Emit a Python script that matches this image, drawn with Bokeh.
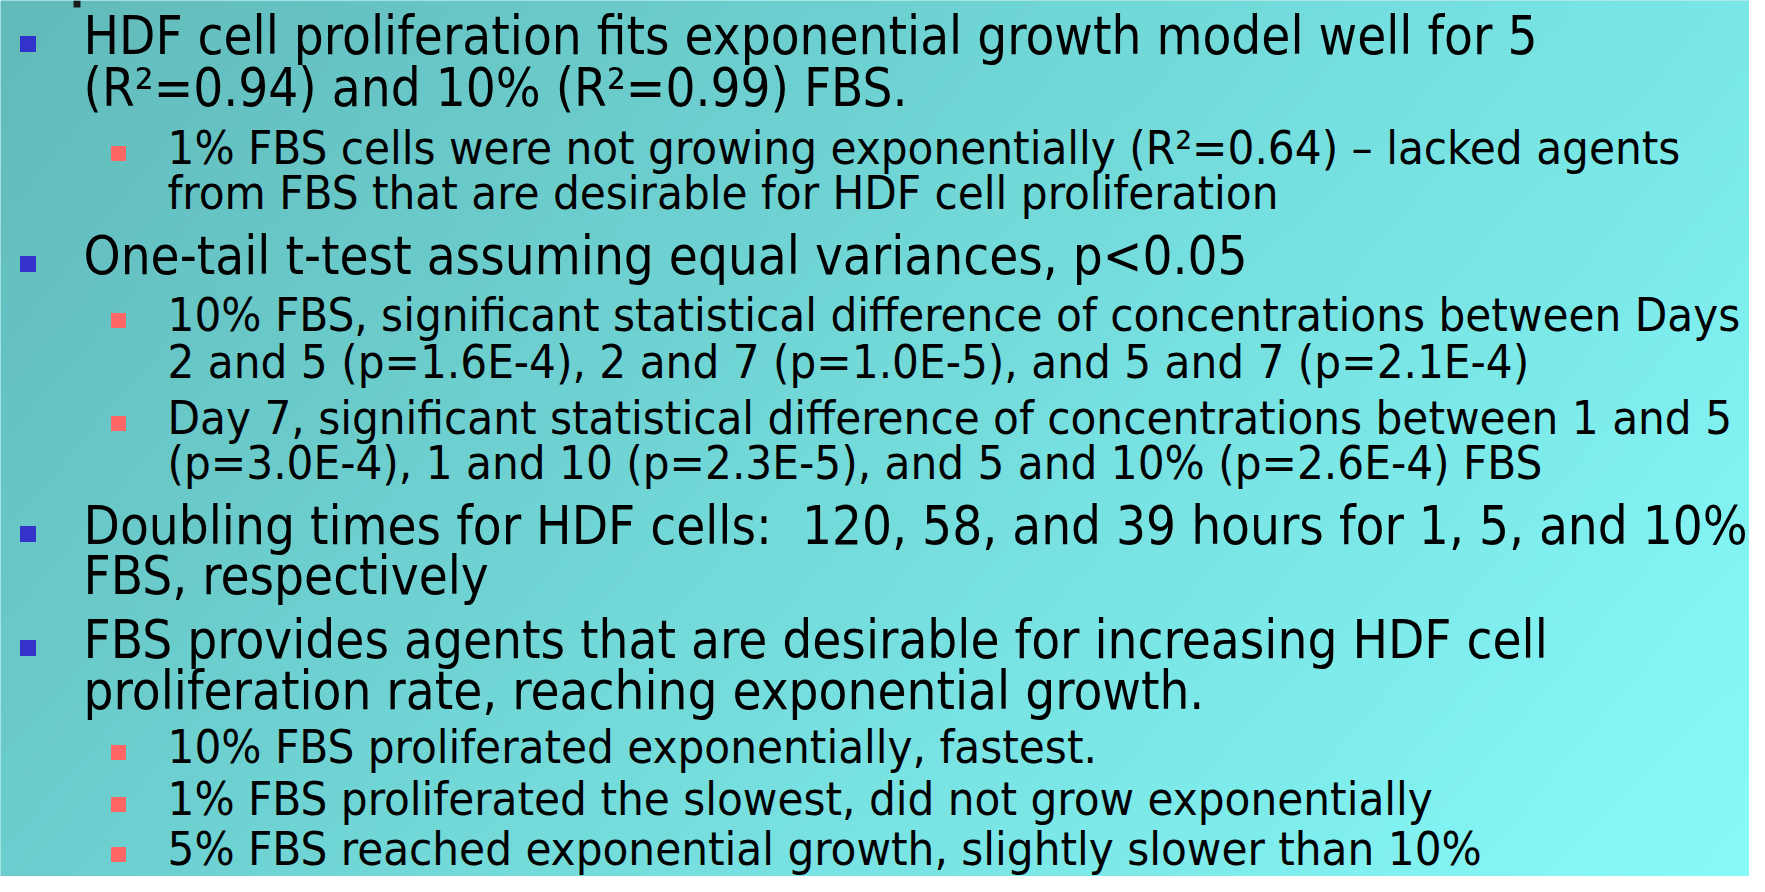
import numpy as np
from bokeh.plotting import figure
from bokeh.models import Range1d
from bokeh.core.properties import value
from bokeh.embed import file_html
from bokeh.resources import INLINE

# ---- slide content ----
lines = [
    "HDF cell proliferation fits exponential growth model well for 5",
    "(R\u00b2=0.94) and 10% (R\u00b2=0.99) FBS.",
    "1% FBS cells were not growing exponentially (R\u00b2=0.64) \u2013 lacked agents",
    "from FBS that are desirable for HDF cell proliferation",
    "One-tail t-test assuming equal variances, p<0.05",
    "10% FBS, significant statistical difference of concentrations between Days",
    "2 and 5 (p=1.6E-4), 2 and 7 (p=1.0E-5), and 5 and 7 (p=2.1E-4)",
    "Day 7, significant statistical difference of concentrations between 1 and 5",
    "(p=3.0E-4), 1 and 10 (p=2.3E-5), and 5 and 10% (p=2.6E-4) FBS",
    "Doubling times for HDF cells:\u00a0\u00a0120, 58, and 39 hours for 1, 5, and 10%",
    "FBS, respectively",
    "FBS provides agents that are desirable for increasing HDF cell",
    "proliferation rate, reaching exponential growth.",
    "10% FBS proliferated exponentially, fastest.",
    "1% FBS proliferated the slowest, did not grow exponentially",
    "5% FBS reached exponential growth, slightly slower than 10%",
]
levels = [1, 1, 2, 2, 1, 2, 2, 2, 2, 1, 1, 1, 1, 2, 2, 2]
has_bullet = [True, False, True, False, True, True, False, True, False,
              True, False, True, False, True, True, True]

# ---- layout (reference pixel coordinates, y measured from top) ----
W, H = 1765, 892
PW, PH = W - 16, H - 16
baselines = [53, 105, 163, 208, 273, 330, 377, 433, 478, 543, 593, 657, 708, 768, 827, 883]
fit_shift = [0] * 13 + [-6, -13, -19]   # pull the last lines up so they fit the frame
text_x = {1: 83, 2: 167}
font_px = {1: 52.5, 2: 47}
K_OFF = 0.335               # renderer puts the baseline this many em below the anchor
bullet_x = {1: 27.5, 2: 118}
bullet_dy = {1: 9.5, 2: 10}
bullet_size = {1: 16, 2: 15}
bullet_color = {1: "#3333CC", 2: "#FF6666"}
FONT = "DejaVu Sans Condensed"

p = figure(width=PW, height=PH, output_backend="svg", toolbar_location=None,
           x_range=Range1d(0, PW), y_range=Range1d(H - PH, H), min_border=0)
p.axis.visible = False
p.grid.visible = False
p.outline_line_color = None
p.background_fill_color = "#7FD8D8"
p.border_fill_color = "white"

# background gradient (bilinear between corner colours)
nx, ny = 400, 200
TL = np.array([98, 186, 186]); TR = np.array([122, 232, 232])
BL = np.array([108, 206, 206]); BR = np.array([137, 251, 251])
u = (np.arange(nx) + 0.5) / nx
v_top = 1 - (np.arange(ny) + 0.5) / ny  # row 0 is at the bottom
U, V = np.meshgrid(u, v_top)
col = ((1 - U)[..., None] * (1 - V)[..., None] * TL + U[..., None] * (1 - V)[..., None] * TR
       + (1 - U)[..., None] * V[..., None] * BL + U[..., None] * V[..., None] * BR)
img = np.empty((ny, nx), dtype=np.uint32)
view = img.view(dtype=np.uint8).reshape((ny, nx, 4))
view[..., 0] = col[..., 0].astype(np.uint8)
view[..., 1] = col[..., 1].astype(np.uint8)
view[..., 2] = col[..., 2].astype(np.uint8)
view[..., 3] = 255
p.image_rgba(image=[img], x=0, y=0, dw=W, dh=H)

# fragment of the cut-off title line above the first bullet
p.quad(left=[73], right=[80], top=[H], bottom=[H - 7], fill_color="#1a1a1a", line_color=None)

for lvl in (1, 2):
    idx = [i for i in range(len(lines)) if levels[i] == lvl]
    yb = [baselines[i] + fit_shift[i] for i in idx]
    p.text(x=[text_x[lvl]] * len(idx),
           y=[H - (b - K_OFF * font_px[lvl]) for b in yb],
           text=[lines[i] for i in idx], text_font=value(FONT),
           text_font_size=f"{font_px[lvl]}px", text_color="black",
           text_baseline="alphabetic", text_align="left")
    bidx = [i for i in idx if has_bullet[i]]
    p.rect(x=[bullet_x[lvl]] * len(bidx),
           y=[H - (baselines[i] + fit_shift[i] - bullet_dy[lvl]) for i in bidx],
           width=bullet_size[lvl], height=bullet_size[lvl],
           width_units="screen", height_units="screen",
           fill_color=bullet_color[lvl], line_color=None)

open("out.html", "w").write(file_html(p, INLINE))
